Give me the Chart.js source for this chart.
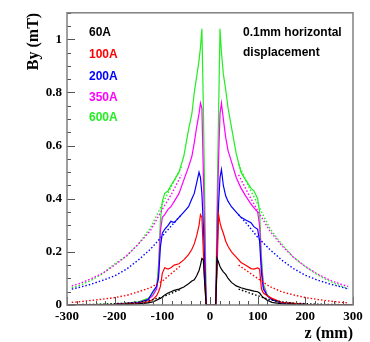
<!DOCTYPE html>
<html>
<head>
<meta charset="utf-8">
<script src="https://cdn.jsdelivr.net/npm/chart.js@4.4.1/dist/chart.umd.min.js"></script>
<style>
  html, body { margin: 0; padding: 0; background: #fff; }
  #wrap { width: 370px; height: 342px; }
</style>
</head>
<body>
<div id="wrap"><canvas id="grafico"></canvas></div>
<script>
// posicoes z (mm) das curvas medidas
const zMedido = [-300, -200, -150, -130, -120, -112, -108, -104, -100, -95, -88, -82, -75, -65, -55, -45, -38, -33, -28, -23, -20, -17, -14, -11, -8,
                 12, 15, 18, 21, 24, 28, 33, 38, 45, 55, 65, 75, 86, 92, 100, 104, 108, 112, 120, 130, 150, 200, 300];

// By medido (mT)
const med60 = [0, 0.001, 0.004, 0.008, 0.012, 0.018, 0.022, 0.025, 0.03, 0.038, 0.045, 0.05, 0.055, 0.06, 0.068, 0.08, 0.09, 0.095, 0.11, 0.13, 0.15, 0.175, 0.17, 0.08, 0,
               0, 0.175, 0.16, 0.145, 0.135, 0.125, 0.115, 0.10, 0.085, 0.072, 0.065, 0.06, 0.055, 0.052, 0.05, 0.045, 0.035, 0.028, 0.018, 0.01, 0.004, 0.001, 0];
const med100 = [0, 0.002, 0.006, 0.012, 0.02, 0.035, 0.05, 0.07, 0.12, 0.14, 0.135, 0.14, 0.15, 0.155, 0.17, 0.19, 0.21, 0.23, 0.26, 0.30, 0.34, 0.33, 0.2, 0.08, 0,
                0, 0.15, 0.34, 0.31, 0.29, 0.27, 0.24, 0.22, 0.2, 0.18, 0.16, 0.15, 0.137, 0.135, 0.14, 0.135, 0.06, 0.045, 0.035, 0.025, 0.01, 0.002, 0];
const med200 = [0, 0.002, 0.008, 0.02, 0.05, 0.07, 0.10, 0.22, 0.27, 0.285, 0.30, 0.315, 0.31, 0.33, 0.35, 0.37, 0.40, 0.42, 0.46, 0.50, 0.48, 0.42, 0.3, 0.15, 0,
                0, 0.2, 0.38, 0.48, 0.51, 0.45, 0.41, 0.39, 0.37, 0.35, 0.33, 0.32, 0.31, 0.295, 0.285, 0.24, 0.12, 0.06, 0.035, 0.02, 0.008, 0.002, 0];
const med350 = [0, 0.002, 0.01, 0.02, 0.035, 0.06, 0.12, 0.28, 0.33, 0.34, 0.36, 0.37, 0.39, 0.42, 0.47, 0.52, 0.56, 0.61, 0.67, 0.72, 0.76, 0.74, 0.5, 0.25, 0,
                0, 0.3, 0.55, 0.72, 0.76, 0.70, 0.63, 0.58, 0.54, 0.48, 0.44, 0.41, 0.38, 0.367, 0.35, 0.30, 0.15, 0.07, 0.035, 0.02, 0.008, 0.002, 0];
const med600 = [0, 0.003, 0.012, 0.025, 0.04, 0.07, 0.15, 0.32, 0.39, 0.42, 0.43, 0.45, 0.47, 0.50, 0.56, 0.66, 0.72, 0.80, 0.86, 0.92, 0.97, 1.04, 0.75, 0.4, 0,
                0, 0.4, 0.72, 1.04, 0.95, 0.87, 0.81, 0.74, 0.67, 0.57, 0.50, 0.47, 0.44, 0.43, 0.40, 0.35, 0.18, 0.08, 0.04, 0.02, 0.01, 0.002, 0];

// curvas simuladas (pontilhadas)
const zSimulado = [-290, -275, -250, -225, -200, -175, -150, -125, -100, -80, -60, 0, 60, 80, 100, 125, 150, 175, 200, 225, 250, 275, 290];
const sim60 = [0.001, 0.0015, 0.002, 0.003, 0.005, 0.007, 0.011, 0.018, 0.03, 0.045, 0.06, null, 0.06, 0.047, 0.035, 0.02, 0.012, 0.007, 0.005, 0.003, 0.002, 0.0015, 0.001];
const sim100 = [0.01, 0.012, 0.017, 0.022, 0.028, 0.036, 0.05, 0.065, 0.09, 0.12, 0.15, null, 0.15, 0.125, 0.1, 0.07, 0.05, 0.038, 0.028, 0.021, 0.015, 0.01, 0.008];
const sim200 = [0.06, 0.066, 0.078, 0.093, 0.11, 0.135, 0.17, 0.21, 0.26, 0.30, 0.34, null, 0.34, 0.30, 0.255, 0.21, 0.17, 0.137, 0.112, 0.094, 0.08, 0.068, 0.06];
const sim350 = [0.072, 0.08, 0.098, 0.12, 0.15, 0.185, 0.23, 0.28, 0.36, 0.42, 0.49, null, 0.49, 0.42, 0.355, 0.28, 0.225, 0.18, 0.145, 0.117, 0.095, 0.078, 0.07];
const sim600 = [0.066, 0.073, 0.092, 0.118, 0.155, 0.185, 0.23, 0.29, 0.38, 0.45, 0.52, null, 0.53, 0.45, 0.38, 0.29, 0.23, 0.18, 0.145, 0.115, 0.09, 0.072, 0.062];

const correntes = ['60A', '100A', '200A', '350A', '600A'];
const cores = ['#000000', '#ff0000', '#0000ff', '#ff00ff', '#22ee22'];
const medidos = [med60, med100, med200, med350, med600];
const simulados = [sim60, sim100, sim200, sim350, sim600];

const datasets = [];
correntes.forEach(function (nome, i) {
    datasets.push({
        label: nome + ' sim',
        data: zSimulado.map((z, k) => ({ x: z, y: simulados[i][k] })),
        borderColor: cores[i],
        borderWidth: 1.4,
        borderDash: [1.5, 2],
        pointRadius: 0,
        spanGaps: false
    });
});
correntes.forEach(function (nome, i) {
    datasets.push({
        label: nome,
        data: zMedido.map((z, k) => ({ x: z, y: medidos[i][k] })),
        borderColor: cores[i],
        borderWidth: 1.2,
        pointRadius: 0
    });
});

const serif = '"Liberation Serif", "Times New Roman", serif';
const sans = '"Liberation Sans", Arial, sans-serif';

// moldura, marcas internas e textos dentro do grafico
const moldura = {
    id: 'moldura',
    afterDraw(chart) {
        const { ctx, chartArea: a, scales: { x, y } } = chart;
        ctx.save();
        ctx.strokeStyle = '#555';
        ctx.lineWidth = 1;
        for (let z = -300; z <= 300; z += 20) {
            const px = Math.round(x.getPixelForValue(z)) + 0.5;
            const len = (z % 100 === 0) ? 8 : 4;
            ctx.beginPath();
            ctx.moveTo(px, a.bottom);
            ctx.lineTo(px, a.bottom - len);
            ctx.stroke();
        }
        for (let k = 0; k <= 22; k++) {
            const py = Math.round(y.getPixelForValue(k * 0.05)) + 0.5;
            const len = (k % 4 === 0) ? 8 : 4;
            ctx.beginPath();
            ctx.moveTo(a.left, py);
            ctx.lineTo(a.left + len, py);
            ctx.stroke();
        }
        ctx.strokeStyle = '#808080';
        ctx.lineWidth = 1.5;
        ctx.strokeRect(a.left, a.top, a.right - a.left, a.bottom - a.top);

        ctx.font = 'bold 12px ' + sans;
        ctx.textBaseline = 'middle';
        ctx.textAlign = 'left';
        const ys = [33, 55, 77, 98, 118];
        correntes.forEach(function (nome, i) {
            ctx.fillStyle = cores[i];
            ctx.fillText(nome, 89, ys[i]);
        });
        ctx.fillStyle = '#000';
        ctx.fillText('0.1mm horizontal', 243, 33);
        ctx.fillText('displacement', 243, 53);
        ctx.restore();
    }
};

const ctx = document.getElementById('grafico').getContext('2d');
const grafico = new Chart(ctx, {
    type: 'line',
    data: { datasets: datasets },
    options: {
        responsive: true,
        maintainAspectRatio: false,
        animation: false,
        layout: { padding: { top: 10, right: 17, left: 0, bottom: 0 } },
        plugins: { legend: { display: false }, tooltip: { enabled: false } },
        elements: { line: { tension: 0 } },
        scales: {
            x: {
                type: 'linear',
                min: -300,
                max: 300,
                afterFit(s) { s.height = 37; },
                grid: { display: false, drawTicks: false },
                border: { display: false },
                ticks: {
                    stepSize: 100,
                    padding: 4,
                    color: '#000',
                    maxRotation: 0,
                    font: { family: serif, size: 13, weight: 'bold' }
                },
                title: {
                    display: true,
                    text: 'z (mm)',
                    align: 'end',
                    color: '#000',
                    padding: { top: 0, bottom: 0 },
                    font: { family: serif, size: 16, weight: 'bold', lineHeight: 1 }
                }
            },
            y: {
                min: 0,
                max: 1.1,
                afterFit(s) { s.width = 67; },
                grid: { display: false, drawTicks: false },
                border: { display: false },
                ticks: {
                    stepSize: 0.2,
                    includeBounds: false,
                    padding: 5,
                    color: '#000',
                    font: { family: serif, size: 13, weight: 'bold' },
                    callback: v => String(+v.toFixed(1))
                },
                title: {
                    display: true,
                    text: 'By (mT)',
                    align: 'end',
                    color: '#000',
                    padding: { top: 26, bottom: 0 },
                    font: { family: serif, size: 16, weight: 'bold', lineHeight: 1 }
                }
            }
        }
    },
    plugins: [moldura]
});
</script>
</body>
</html>
